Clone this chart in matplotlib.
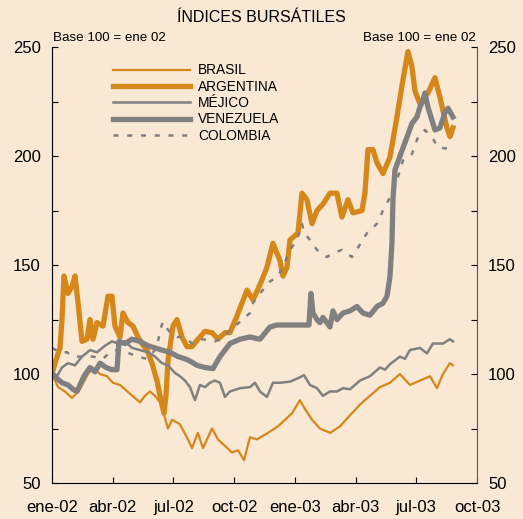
import numpy as np
import matplotlib.pyplot as plt

plt.rcParams['font.family'] = ['Liberation Sans', 'DejaVu Sans']

# meses desde ene-02 (0 = 1 ene 2002)
brasil_t = [0, 0.3, 0.64, 0.99, 1.38, 1.78, 2.03, 2.37, 2.72, 3.01, 3.36, 3.85, 4.35, 4.59, 4.84,
            5.09, 5.34, 5.58, 5.73, 5.93, 6.32, 6.72, 6.92, 7.21, 7.46, 7.91, 8.2, 8.55, 8.89, 9.19,
            9.49, 9.78, 10.13, 10.67, 11.17, 11.51, 11.86, 12.25, 12.5, 12.85, 13.24, 13.74, 14.23,
            14.72, 15.22, 15.71, 16.21, 16.7, 17.19, 17.69, 18.18, 18.68, 19.02, 19.32, 19.66, 19.81]
brasil = [100, 94, 92, 89, 93, 100, 103, 100, 99, 96, 95, 91, 87, 90, 92,
          90, 87, 80, 75, 79, 77, 70, 66, 73, 66, 75, 70, 67, 64, 65,
          60.5, 71, 70, 73, 76, 79, 82, 88, 84, 79, 75, 73, 76,
          81, 86, 90, 94, 96, 100, 95, 97, 99, 93.5, 100, 105, 104]

argentina_x = [52, 55, 60, 62, 64, 68, 72, 75, 78, 82, 87, 90, 93, 97, 103, 108, 112, 115, 120, 123,
               128, 133, 138, 142, 147, 152, 157, 161, 164, 166, 168, 173, 177, 182, 187, 192, 198,
               205, 212, 218, 225, 230, 237, 247, 253, 260, 267, 273, 280, 283, 287, 290, 298, 302,
               307, 312, 317, 323, 330, 337, 342, 348, 353, 362, 365, 368, 373, 377, 383, 390, 397,
               403, 408, 412, 415, 420, 428, 435, 440, 447, 450, 453]
argentina = [100, 105, 112, 125, 145, 137, 140, 145, 133, 115, 116, 125, 116, 123.6, 122, 135.7, 135.7,
             122, 117, 128, 123.6, 122, 117, 114, 111, 105, 97, 88, 82, 90, 106, 122, 125, 117, 112.6,
             112.6, 116, 119.6, 119, 116, 119, 119, 126.6, 138.5, 134, 141, 149, 160, 152, 145, 149,
             161.5, 164.7, 183, 180, 169, 175, 178, 183, 183, 172, 180, 174, 175, 183, 203, 203, 197,
             192, 199.5, 218, 235, 248, 241, 230, 224, 229, 236, 227, 213, 209, 213]

mexico_x = [52, 57, 62, 68, 75, 82, 90, 97, 105, 112, 118, 125, 132, 140, 148, 155, 162, 168, 175, 180,
            185, 190, 195, 200, 205, 210, 215, 220, 225, 230, 240, 250, 255, 260, 267, 273, 280, 290,
            300, 304, 310, 317, 323, 330, 337, 343, 350, 355, 360, 370, 380, 385, 390, 400, 405, 410,
            420, 427, 433, 443, 450, 453]
mexico = [101, 99, 103, 105, 104, 108, 111, 110, 113, 115, 114, 115, 112, 111, 110, 108, 105, 104,
          100.5, 99, 97, 94, 88, 95, 94, 96, 97, 96, 89.5, 92, 93.5, 94, 96, 92, 89.5, 96, 96, 96.5,
          98.5, 99.5, 95, 93.5, 90, 92, 92, 93.5, 93, 95, 97, 99, 103, 102, 104.5, 108, 107, 111,
          112, 109.5, 114, 114, 116, 115]

venezuela_x = [52, 57, 62, 68, 73, 77, 80, 84, 90, 95, 100, 106, 112, 117, 119, 125, 132, 140, 148,
               155, 162, 170, 178, 185, 190, 197, 205, 213, 220, 230, 240, 250, 260, 270, 277, 290,
               300, 309, 311, 313, 317, 320, 323, 330, 333, 337, 343, 350, 357, 363, 370, 377, 383,
               387, 390, 392, 393, 395, 400, 407, 412, 417, 420, 423, 425, 428, 432, 435, 440, 445,
               448, 453]
venezuela = [100, 98, 96, 95, 93, 92, 95, 99, 103, 101, 105, 103, 102, 102, 115, 114, 116, 115, 113,
             112, 111, 110, 108, 107, 106, 104, 103, 102.5, 108, 114, 116, 117, 116, 121.6, 122.5,
             122.5, 122.5, 122.5, 137, 128, 125, 123.6, 126, 121.6, 129, 125, 128, 129, 131, 128, 127,
             131, 132.5, 135.7, 144.5, 160, 180, 193.6, 200, 208.7, 215, 218, 222.5, 225.7, 229,
             222.5, 216.5, 212, 213, 220, 222, 218]

colombia_x = [52, 60, 67, 73, 83, 93, 103, 110, 117, 127, 137, 147, 157, 160, 163, 167, 172, 177,
              185, 192, 202, 215, 223, 230, 240, 250, 253, 260, 270, 277, 283, 290, 297, 302, 304,
              310, 317, 327, 333, 342, 352, 358, 367, 377, 383, 390, 397, 403, 412, 418, 425, 433,
              438, 445, 453]
colombia = [112, 110, 110, 108, 108, 108, 107, 110, 111, 110, 108, 107, 112, 120, 124, 121, 118, 117,
            117, 114, 116, 115, 117, 120, 124, 128, 132.6, 137, 142.5, 144.5, 149, 157, 161.5, 169,
            165, 161.5, 157, 153.7, 155.5, 157, 153.7, 158, 164.7, 169, 175, 181, 189, 198, 201,
            208.7, 212, 208, 204, 203.6, 204]

meses = [0, 3, 6, 9, 12, 15, 18, 21]
etiquetas = ['ene-02', 'abr-02', 'jul-02', 'oct-02', 'ene-03', 'abr-03', 'jul-03', 'oct-03']

# lecturas en posicion horizontal -> meses
def to_mes(xs):
    return (np.array(xs) - 52) / 20.24

fondo = '#F8E8D4'
naranja = '#D5871A'
gris = '#808080'

fig = plt.figure(figsize=(5.23, 5.19), dpi=100, facecolor=fondo)
ax = fig.add_axes([0.0994, 0.0694, 0.8126, 0.8396])
ax.set_facecolor(fondo)

ax.plot(brasil_t, brasil, color=naranja, lw=1.6, label='BRASIL')
ax.plot(to_mes(argentina_x), argentina, color=naranja, lw=3.8, label='ARGENTINA', solid_joinstyle='round')
ax.plot(to_mes(mexico_x), mexico, color=gris, lw=1.8, label='MÉJICO')
ax.plot(to_mes(venezuela_x), venezuela, color=gris, lw=3.8, label='VENEZUELA', solid_joinstyle='round')
ax.plot(to_mes(colombia_x), colombia, color=gris, lw=1.8, ls=(0, (2, 3.5)), label='COLOMBIA')

ax.set_xlim(0, 21)
ax.set_ylim(50, 250)
ax.set_xticks(meses)
ax.set_xticklabels(etiquetas)
ax.set_yticks([50, 75, 100, 125, 150, 175, 200, 225, 250])
ax.set_yticklabels(['50', '', '100', '', '150', '', '200', '', '250'])
ax.tick_params(axis='x', direction='in', length=4, pad=12, labelsize=12)
ax.tick_params(axis='y', direction='in', length=4, pad=8, labelsize=12,
               right=True, labelright=True)
ax.spines['top'].set_visible(False)
ax.spines['right'].set_color('#555555')

fig.text(0.5, 0.966, 'ÍNDICES BURSÁTILES', ha='center', va='center', fontsize=11.5)
fig.text(0.101, 0.927, 'Base 100 = ene 02', ha='left', va='center', fontsize=9.6)
fig.text(0.910, 0.927, 'Base 100 = ene 02', ha='right', va='center', fontsize=9.6)

ax.legend(loc='upper left', bbox_to_anchor=(0.216, 0.878), bbox_transform=fig.transFigure,
          frameon=False, fontsize=9.9, handlelength=5.6, handletextpad=0.6,
          labelspacing=0.17, borderpad=0, borderaxespad=0)

fig.savefig('out.png', dpi=100, facecolor=fondo)
